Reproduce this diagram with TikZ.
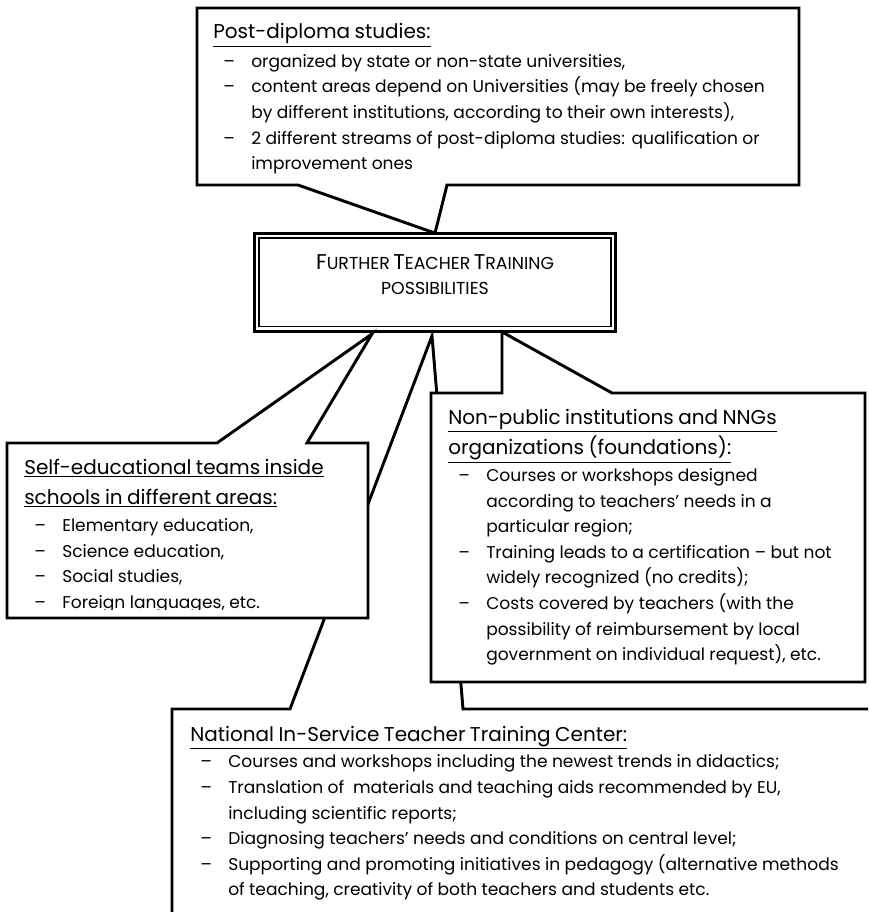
\documentclass[tikz,border=0pt]{standalone}
\usepackage{fontspec}
\setmainfont{Poppins}
\usetikzlibrary{positioning}

\newcommand{\headfont}{\fontsize{15}{22.9}\selectfont}
\newcommand{\bodyfont}{\fontsize{12.8}{19.2}\selectfont}
\newcommand{\itm}{\hspace*{7.5pt}\makebox[21pt][l]{--}}
\newcommand{\cnt}{\hspace*{28.5pt}}
\newcommand{\fakesc}[2]{{\fontsize{16}{18}\selectfont #1}{\fontsize{13}{18}\selectfont #2}}

\tikzset{
  callout/.style={draw, line width=2.2pt, fill=white, line join=miter},
  hub/.style={draw, line width=2.2pt, fill=white, outer sep=0pt,
    minimum width=271.4pt, minimum height=74.1pt, align=center, text depth=12pt},
  boxtext/.style={anchor=base west, inner sep=0pt, text width=620pt, align=left},
}

\begin{document}
\begin{tikzpicture}[x=0.75pt, y=-0.75pt]
\useasboundingbox (0,0) rectangle (868,912);
\clip (0,0) rectangle (868,912);

% central box
\node[hub] (ftt) at (435,282.5)
  {\fakesc{F}{URTHER} \fakesc{T}{EACHER} \fakesc{T}{RAINING}\\[7pt]
   \fakesc{}{POSSIBILITIES}};
\draw[line width=0.9pt] ([shift={(5,5)}]ftt.north west) rectangle ([shift={(-5,-5)}]ftt.south east);

% National centre (behind the others)
\draw[callout] (172,709) -- (290,709) -- ([shift={(-3,4)}]ftt.south) -- (463,709)
  -- (890,709) -- (890,940) -- (172,940) -- cycle;
\node[boxtext] (natT) at (190,741) {%
  {\headfont\underline{National In-Service Teacher Training Center:}\par}\vspace{1pt}
  {\bodyfont
  \itm Courses and workshops including the newest trends in didactics;\\
  \itm Translation of\ \ materials and teaching aids recommended by EU,\\
  \cnt including scientific reports;\\
  \itm Diagnosing teachers’ needs and conditions on central level;\\
  \itm Supporting and promoting initiatives in pedagogy (alternative methods\\
  \cnt of teaching, creativity of both teachers and students etc.\par}};

% self-educational teams
\draw[callout] (7,443) -- (217,443) -- ([shift={(-63,2)}]ftt.south) -- (307,443)
  -- (368,443) -- (368,618) -- (7,618) -- cycle;
\begin{scope}
\clip (9,445) rectangle (366,609.5);
\node[boxtext] (selfT) at (24,474) {%
  {\headfont\underline{Self-educational teams inside}\\
  \underline{schools in different areas:}\par}\vspace{1pt}
  {\bodyfont
  \itm Elementary education,\\
  \itm Science education,\\
  \itm Social studies,\\
  \itm Foreign languages, etc.\par}};
\end{scope}

% non-public institutions
\draw[callout] (431,393) -- (502,393) -- ([shift={(67,0)}]ftt.south) -- (612,393)
  -- (865,393) -- (865,682) -- (431,682) -- cycle;
\node[boxtext] (nonT) at (448,424) {%
  {\headfont\underline{Non-public institutions and NNGs}\\
  \underline{organizations (foundations):}\par}\vspace{1pt}
  {\bodyfont
  \itm Courses or workshops designed\\
  \cnt according to teachers’ needs in a\\
  \cnt particular region;\\
  \itm Training leads to a certification -- but not\\
  \cnt widely recognized (no credits);\\
  \itm Costs covered by teachers (with the\\
  \cnt possibility of reimbursement by local\\
  \cnt government on individual request), etc.\par}};

% post-diploma studies
\draw[callout] (197,8) -- (799,8) -- (799,185) -- (447,185) -- (ftt.north)
  -- (298,185) -- (197,185) -- cycle;
\node[boxtext] (postT) at (213,39) {%
  {\headfont\underline{Post-diploma studies:}\par}\vspace{2pt}
  {\bodyfont
  \itm organized by state or non-state universities,\\
  \itm content areas depend on Universities (may be freely chosen\\
  \cnt by different institutions, according to their own interests),\\
  \itm 2 different streams of post-diploma studies: qualification or\\
  \cnt improvement ones\par}};
\end{tikzpicture}
\end{document}
